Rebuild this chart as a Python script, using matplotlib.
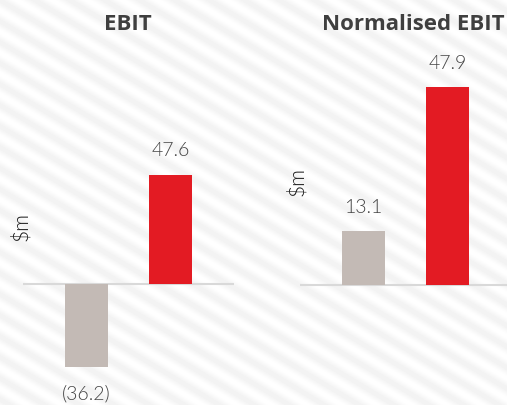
import numpy as np
import matplotlib
matplotlib.use("Agg")
import matplotlib.pyplot as plt

# ---- data ----
panel_titles = ["EBIT", "Normalised EBIT"]
ebit_values = [-36.2, 47.6]
norm_ebit_values = [13.1, 47.9]
ebit_labels = ["(36.2)", "47.6"]
norm_ebit_labels = ["13.1", "47.9"]
bar_colors = ["#c3bab5", "#e31b23"]
y_label = "$m"

W, H = 507, 405
fig = plt.figure(figsize=(W / 100, H / 100), dpi=100)

# striped background
bg = fig.add_axes([0, 0, 1, 1], zorder=-10)
yy, xx = np.mgrid[0:H, 0:W]
ang = np.deg2rad(31)
perp = -xx * np.sin(ang) + yy * np.cos(ang)
period = 18.0
pattern = 0.5 + 0.5 * np.cos(2 * np.pi * perp / period)
gray = 1.0 - 0.05 * pattern
bg.imshow(gray, cmap="gray", vmin=0, vmax=1, aspect="auto", interpolation="bilinear")
bg.axis("off")

val_font = dict(family=["Lato", "DejaVu Sans"], fontsize=14, fontweight=350, color="#444444")
title_font = dict(family=["Open Sans", "DejaVu Sans"], fontsize=16, fontweight="bold", color="#3f3f3f")


def make_panel(left_px, zero_px, px_per_unit, values, labels):
    top_px, bot_px = 40, 400
    ax = fig.add_axes([left_px / W, 1 - bot_px / H, 211 / W, (bot_px - top_px) / H])
    ax.set_facecolor("none")
    ymax = (zero_px - top_px) / px_per_unit
    ymin = -(bot_px - zero_px) / px_per_unit
    x = np.arange(len(values))
    ax.bar(x, values, width=0.512, color=bar_colors, zorder=2)
    ax.axhline(0, color="#d9d9d9", lw=1.5, zorder=1)
    for xi, v, lab in zip(x, values, labels):
        off = 17 if v >= 0 else -19
        ax.annotate(lab, (xi, v), xytext=(0, off), textcoords="offset points",
                    ha="center", va="center", **val_font)
    ax.set_xlim(-0.756, 1.756)
    ax.set_ylim(ymin, ymax)
    ax.axis("off")
    return ax


make_panel(23, 284, 2.3, ebit_values, ebit_labels)
make_panel(300, 285, 4.13, norm_ebit_values, norm_ebit_labels)

fig.text(128 / W, 1 - 25 / H, panel_titles[0], ha="center", va="center", **title_font)
fig.text(413 / W, 1 - 25 / H, panel_titles[1], ha="center", va="center", **title_font)

ylab_font = dict(family=["Lato", "DejaVu Sans"], fontsize=15, fontweight=350,
                 color="#1a1a1a", rotation=90)
fig.text(21 / W, 1 - 227 / H, y_label, ha="center", va="center", **ylab_font)
fig.text(297 / W, 1 - 182 / H, y_label, ha="center", va="center", **ylab_font)

fig.savefig("out.png", dpi=100)
